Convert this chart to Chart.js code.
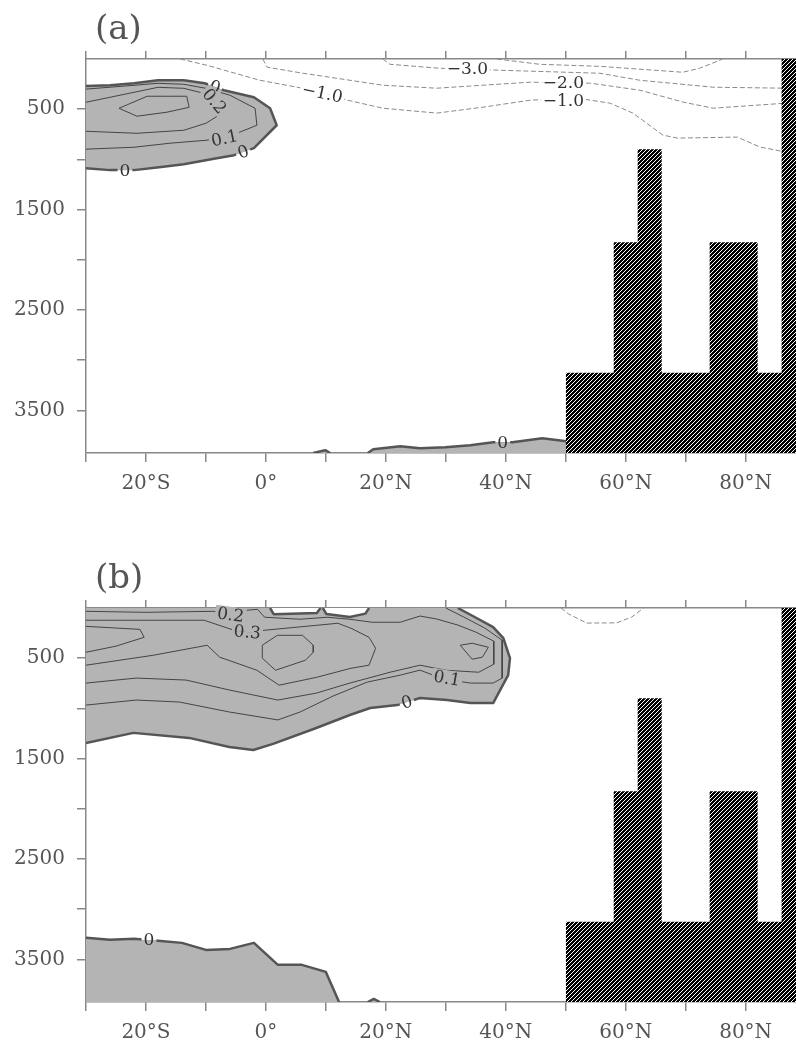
<!DOCTYPE html>
<html>
<head>
<meta charset="utf-8">
<script src="https://cdn.jsdelivr.net/npm/chart.js@4.4.1/dist/chart.umd.min.js"></script>
<style>
  html, body { margin: 0; padding: 0; background: #fff; width: 796px; height: 1044px; overflow: hidden; }
  canvas { position: absolute; left: 0; }
  #pa { top: 0; }
  #pb { top: 549px; }
</style>
</head>
<body>
<canvas id="pa" width="796" height="520"></canvas>
<canvas id="pb" width="796" height="495"></canvas>
<script>
/* ── axes ── */
const latTicks = [-30, -20, -10, 0, 10, 20, 30, 40, 50, 60, 70, 80];
const latLabelled = [-20, 0, 20, 40, 60, 80];
const latLabels = ["20°S", "0°", "20°N", "40°N", "60°N", "80°N"];
const depthTicks = [500, 1000, 1500, 2000, 2500, 3000, 3500];
const depthLabels = ["500", "", "1500", "", "2500", "", "3500"];
const latRange = [-30, 88.4];
const depthRange = [0, 3925];

/* ── topography [lat, depth], same in both panels ── */
const topo = [[50,3125],[58,3125],[58,1825],[62,1825],[62,900],[66,900],[66,3125],[74,3125],
              [74,1825],[82,1825],[82,3125],[86,3125],[86,0],[90,0]];

/* ── panel (a) contours [lat, depth] ── */
const aZero = [[-30,270],[-26,262],[-22,242],[-18,212],[-13.7,212],[-10.2,242],[-7,311],[-2,381],
               [0.7,491],[1.8,660],[-2,888],[-5.3,958],[-8.2,988],[-13.7,1048],[-17.8,1078],
               [-22,1107],[-26,1107],[-30,1088]];
const aC01 = [[-30,300],[-22,262],[-18,242],[-13.7,252],[-10,292],[-6,361],[-1.8,491],[-1.5,660],
              [-4,720],[-6,770],[-10,810],[-16,839],[-22,879],[-30,898]];
const aC02 = [[-30,431],[-22,332],[-18,282],[-13.7,292],[-11,332],[-8.7,411],[-6.5,510],[-10,640],
              [-13.7,710],[-21.5,740],[-30,720]];
const aC03 = [[-24.5,491],[-19.8,371],[-13.2,371],[-12.8,481],[-16.5,530],[-21.5,570],[-24.5,491]];
const aBottom = [[17,3925],[17.9,3887],[22.4,3857],[25.7,3877],[29.9,3867],[34.1,3847],[37.9,3818],
                 [41.1,3818],[46.1,3778],[50.1,3808]];
const aBump = [[7.9,3925],[9.9,3897],[10.7,3925]];
const aNeg1 = [[-14.3,0],[-9.8,63],[-1,212],[7.9,311],[13.6,410],[19.5,490],[28.5,539],[36.2,480],
               [44.1,410],[51.9,390],[57.4,440],[61.2,539],[66.2,758],[68.6,788],[78.6,778],
               [82.4,877],[86.7,927]];
const aNeg2 = [[-0.5,0],[0.2,82],[6.2,142],[19.5,261],[28.5,291],[36.2,261],[44.1,231],[54.1,241],
               [62.4,311],[69.6,430],[74.6,490],[86.7,440]];
const aNeg3 = [[19.5,0],[20.7,53],[29,92],[39,112],[55.7,142],[62.4,212],[74.6,281],[86.7,291]];
const aNeg4 = [[38.5,0],[45.7,53],[55.7,73],[69.5,132],[72.3,93],[76.2,0]];
// [text, lat, depth, rotation, background]
const aLabels = [["0",-8.5,279,20,"wg"],["0.2",-8.6,420,50,"g"],["0.1",-6.9,790,-12,"g"],
                 ["0",-3.8,926,-20,"gw"],["0",-23.5,1107,0,"gw"],["\u22121.0",9.4,340,12,"w"],
                 ["\u22123.0",33.6,98,0,"w"],["\u22122.0",49.6,236,0,"w"],["\u22121.0",49.6,410,0,"w"],
                 ["0",39.5,3818,0,"wg"]];

/* ── panel (b) contours [lat, depth] ── */
const bZero = [[-30,1344],[-22.1,1244],[-12.8,1294],[-6.1,1384],[-2.1,1414],[1.2,1354],[8.4,1195],
               [14,1066],[17.4,996],[21.9,967],[25.7,897],[30.2,917],[34.1,947],[37.9,947],
               [40.4,669],[40.7,500],[39.6,301],[37.9,191],[35.2,102],[32,0]];
const bHole1 = [[0.7,0],[1.3,62],[8.5,50],[9.1,0]];
const bHole2 = [[9.5,0],[10.1,60],[14,90],[16.6,56],[17.2,0]];
const bC01 = [[30,0],[33,90],[36.5,200],[39.4,321],[39.4,698],[37.9,748],[34.1,748],[29.6,705],
              [27.9,669],[25.7,619],[22.4,669],[16.9,738],[11.2,877],[5.7,1036],[2,1115],
              [-6.1,1036],[-14.4,937],[-21.6,917],[-30,967]];
const bC02 = [[-30,33],[-20,43],[-8.8,33],[-5.6,55],[-3.3,23],[-1.4,13],[-0.2,92],[5.7,112],
              [10.2,92],[14,112],[17.7,142],[22.4,142],[25.7,80],[28.5,110],[32,170],[35,240],
              [38,330],[38,560],[35.5,640],[30,620],[25.7,570],[20.7,640],[14,748],[8.4,848],
              [2,917],[-6.1,817],[-13.3,718],[-21.6,698],[-30,748]];
const bC03 = [[-30,122],[-10.3,122],[-5.3,222],[-3.2,242],[-0.3,222],[8.5,172],[12,152],[14.2,202],
              [17.2,292],[18.3,401],[17.2,570],[14.2,600],[8.5,690],[2.2,769],[-1.5,620],
              [-7.7,490],[-9.8,371],[-18.7,470],[-30,570]];
const bMax = [[-0.6,371],[1.9,272],[6.1,272],[7.9,371],[7.9,441],[6.6,520],[1.6,620],[-0.6,500],[-0.6,371]];
const bTongue = [[-30,183],[-21,213],[-20.3,292],[-25,380],[-30,441]];
const bQuad = [[32.4,371],[34.4,351],[37.1,391],[36.1,490],[34.4,510],[32.4,371]];
const bBottom = [[-30,3286],[-26,3306],[-22,3296],[-18,3316],[-14,3336],[-10,3406],[-6,3396],
                 [-2,3336],[2,3555],[6,3555],[10,3625],[12.2,3925]];
const bBump = [[17,3925],[18,3895],[19,3925]];
const bNeg = [[49.2,0],[50.5,60],[53.5,150],[58.5,148],[61,90],[63,0]];
const bLabels = [["0.2",-5.9,68,8,"g"],["0.3",-3.1,240,5,"g"],["0.1",30.2,700,10,"g"],
                 ["0",23.5,938,-17,"gw"],["0",-19.5,3308,0,"wg"]];

/* ── styles ── */
const GREY = "#b4b4b4";
const FONT = "'DejaVu Serif', serif";
const bgColor = { g: GREY, w: "#ffffff" };

function hatch() {
  const c = document.createElement("canvas");
  c.width = c.height = 4;
  const g = c.getContext("2d");
  g.fillStyle = "#000";
  g.fillRect(0, 0, 4, 4);
  g.strokeStyle = "#fff";
  g.lineWidth = 1;
  g.beginPath();
  g.moveTo(-1, 5); g.lineTo(5, -1);
  g.moveTo(-1, 1); g.lineTo(1, -1);
  g.moveTo(3, 5); g.lineTo(5, 3);
  g.stroke();
  return g.createPattern(c, "repeat");
}

function pts(arr) { return arr.map(([x, y]) => ({ x, y })); }

function curve(arr, kind, extra) {
  const style = {
    zero: { borderColor: "#555", borderWidth: 2.5 },
    thin: { borderColor: "#444", borderWidth: 1 },
    dash: { borderColor: "#8a8a8a", borderWidth: 1, borderDash: [5, 2.5] },
  }[kind];
  return Object.assign({ data: pts(arr), pointRadius: 0, tension: 0, fill: false,
                         borderJoinStyle: "round", order: 1 }, style, extra || {});
}

function topoSet() {
  return { data: pts(topo), pointRadius: 0, borderWidth: 1, borderColor: "rgba(0,0,0,0)",
           fill: "start", backgroundColor: hatch(), order: -1 };
}

// grey / white polygons under the contour lines
const shadePlugin = {
  id: "shade",
  beforeDatasetsDraw(chart) {
    const { ctx, chartArea: ca, scales } = chart;
    ctx.save();
    ctx.beginPath();
    ctx.rect(ca.left, ca.top, ca.right - ca.left, ca.bottom - ca.top);
    ctx.clip();
    chart.data.datasets.forEach((ds, i) => {
      if (!ds.shade) return;
      const p = chart.getDatasetMeta(i).data;
      ctx.beginPath();
      p.forEach((q, k) => (k ? ctx.lineTo(q.x, q.y) : ctx.moveTo(q.x, q.y)));
      (ds.shadeVia || []).forEach(([lx, dy]) =>
        ctx.lineTo(scales.x.getPixelForValue(lx), scales.y.getPixelForValue(dy)));
      ctx.closePath();
      ctx.fillStyle = ds.shade;
      ctx.fill();
    });
    ctx.restore();
  },
};

function textPlugin(items, title) {
  return {
    id: "ctext",
    afterDatasetsDraw(chart) {
      const { ctx, scales } = chart;
      ctx.save();
      ctx.font = "17px " + FONT;
      ctx.textAlign = "center";
      ctx.textBaseline = "middle";
      items.forEach(([t, lat, dep, rot, bg]) => {
        const px = scales.x.getPixelForValue(lat);
        const py = scales.y.getPixelForValue(dep);
        const w = ctx.measureText(t).width;
        ctx.save();
        ctx.translate(px, py);
        ctx.rotate((rot * Math.PI) / 180);
        // a label sitting on the zero line gets one colour above and one below
        const top = bgColor[bg[0]], bot = bgColor[bg[bg.length - 1]];
        ctx.fillStyle = top;
        ctx.fillRect(-w / 2 - 2, -8, w + 4, 8);
        ctx.fillStyle = bot;
        ctx.fillRect(-w / 2 - 2, 0, w + 4, 8);
        ctx.fillStyle = "#333";
        ctx.fillText(t, 0, 1);
        ctx.restore();
      });
      ctx.restore();
    },
    afterDraw(chart) {
      const { ctx, chartArea: ca } = chart;
      ctx.save();
      ctx.font = "34px " + FONT;
      ctx.fillStyle = "#555";
      ctx.textBaseline = "alphabetic";
      ctx.fillText(title, ca.left + 9, ca.top - 20);
      ctx.restore();
    },
  };
}

function axisGrid(len) {
  return { drawOnChartArea: false, drawTicks: true, tickLength: len, color: "#888", lineWidth: 1.5 };
}

function makePanel(id, title, datasets, labels, bottomH) {
  const tickFont = { family: FONT, size: 20 };
  new Chart(document.getElementById(id), {
    type: "line",
    data: { datasets },
    options: {
      responsive: false,
      animation: false,
      events: [],
      layout: { padding: 0 },
      plugins: { legend: { display: false }, tooltip: { enabled: false } },
      scales: {
        x: {
          type: "linear", position: "bottom", min: latRange[0], max: latRange[1],
          afterBuildTicks: (s) => { s.ticks = latTicks.map((v) => ({ value: v })); },
          afterFit: (s) => { s.height = bottomH; },
          grid: axisGrid(9),
          border: { color: "#888", width: 1.5 },
          ticks: {
            autoSkip: false, maxRotation: 0, padding: 10, color: "#555", font: tickFont,
            callback: (v) => { const k = latLabelled.indexOf(v); return k < 0 ? "" : latLabels[k]; },
          },
        },
        xt: {
          type: "linear", axis: "x", position: "top", min: latRange[0], max: latRange[1],
          afterBuildTicks: (s) => { s.ticks = latTicks.map((v) => ({ value: v })); },
          afterFit: (s) => { s.height = 59; },
          grid: axisGrid(8),
          border: { color: "#888", width: 1.5 },
          ticks: { display: false },
        },
        y: {
          type: "linear", reverse: true, min: depthRange[0], max: depthRange[1],
          afterBuildTicks: (s) => { s.ticks = depthTicks.map((v) => ({ value: v })); },
          afterFit: (s) => { s.width = 86; },
          grid: axisGrid(9),
          border: { color: "#888", width: 1.5 },
          ticks: {
            padding: 12, color: "#555", font: tickFont,
            callback: (v) => { const k = depthTicks.indexOf(v); return k < 0 ? "" : depthLabels[k]; },
          },
        },
      },
    },
    plugins: [shadePlugin, textPlugin(labels, title)],
  });
}

makePanel("pa", "(a)", [
  curve(aZero, "zero", { shade: GREY }),
  curve(aC01, "thin"),
  curve(aC02, "thin"),
  curve(aC03, "thin"),
  curve(aBottom, "zero", { fill: "start", backgroundColor: GREY }),
  curve(aBump, "zero", { fill: "start", backgroundColor: GREY }),
  curve(aNeg1, "dash"),
  curve(aNeg2, "dash"),
  curve(aNeg3, "dash"),
  curve(aNeg4, "dash"),
  topoSet(),
], aLabels, 67);

makePanel("pb", "(b)", [
  curve(bZero, "zero", { shade: GREY, shadeVia: [[-30, 0]] }),
  curve(bHole1, "zero", { shade: "#ffffff" }),
  curve(bHole2, "zero", { shade: "#ffffff" }),
  curve(bC01, "thin"),
  curve(bC02, "thin"),
  curve(bC03, "thin"),
  curve(bMax, "thin"),
  curve(bTongue, "thin"),
  curve(bQuad, "thin"),
  curve(bBottom, "zero", { fill: "start", backgroundColor: GREY }),
  curve(bBump, "zero", { fill: "start", backgroundColor: GREY }),
  curve(bNeg, "dash"),
  topoSet(),
], bLabels, 42);
</script>
</body>
</html>
